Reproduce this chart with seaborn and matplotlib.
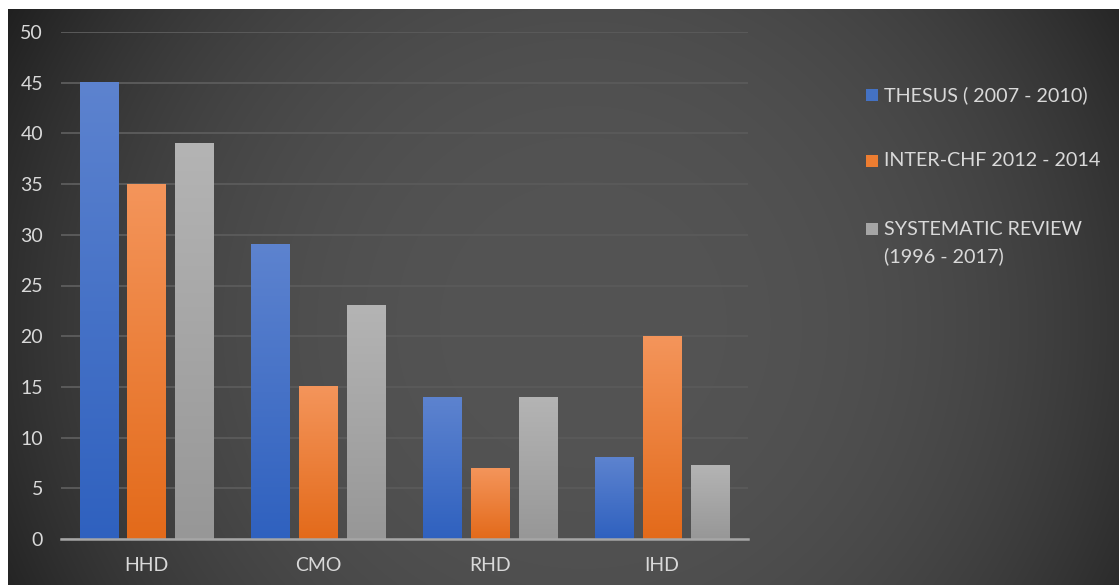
import numpy as np
import pandas as pd
import matplotlib
matplotlib.use("Agg")
import matplotlib.pyplot as plt
import seaborn as sns
from matplotlib.colors import LinearSegmentedColormap
from matplotlib.patches import Rectangle

# Aetiology of heart failure (%) by study
categories = ["HHD", "CMO", "RHD", "IHD"]
series_names = ["THESUS ( 2007 - 2010)", "INTER-CHF 2012 - 2014",
                "SYSTEMATIC REVIEW\n(1996 - 2017)"]
thesus = [45, 29, 14, 8]
inter_chf = [35, 15, 7, 20]
systematic_review = [39, 23, 14, 7.2]
y_ticks = [0, 5, 10, 15, 20, 25, 30, 35, 40, 45, 50]

# (top colour, bottom colour, legend swatch) for each series
bar_gradients = [("#5d83cf", "#2f61bf", "#4472c4"),
                 ("#f4955b", "#e36a1a", "#ed7d31"),
                 ("#b4b4b4", "#979797", "#a5a5a5")]

FONT = "Lato"

df = pd.DataFrame({
    "category": categories * 3,
    "value": thesus + inter_chf + systematic_review,
    "series": [s for s in series_names for _ in categories],
})

W, H, DPI = 1119, 585, 100
fig = plt.figure(figsize=(W / DPI, H / DPI), dpi=DPI, facecolor="white")

# Dark radial-gradient backdrop (leaves a thin white margin top/left)
bx0, by_top = 8, 9
bg_ax = fig.add_axes([bx0 / W, 0, 1 - bx0 / W, (H - by_top) / H])
bg_ax.set_axis_off()
gw, gh = W - bx0, H - by_top
yy, xx = np.mgrid[0:gh, 0:gw]
r = np.hypot(xx - 575, yy - 315) / 660.0
shade = (0x54 - 0x35 * np.clip(r, 0, 1.15) ** 2.6) / 255.0
shade = np.clip(shade, 0.09, 1)
bg_ax.imshow(np.dstack([shade, shade, shade]), aspect="auto",
             extent=[0, 1, 0, 1], interpolation="bilinear")
bg_ax.set_xlim(0, 1)
bg_ax.set_ylim(0, 1)

# Main plotting area
left, right, top, bottom = 61, 748, 32, 539
ax = fig.add_axes([left / W, (H - bottom) / H, (right - left) / W,
                   (bottom - top) / H])
ax.set_facecolor("none")

sns.barplot(data=df, x="category", y="value", hue="series",
            palette=[g[1] for g in bar_gradients], width=0.837, gap=0.19,
            legend=False, ax=ax, zorder=3)

ax.set_ylim(0, 50)
ax.set_xlim(-0.5, len(categories) - 0.5)
ax.set_yticks(y_ticks)
ax.set_xlabel("")
ax.set_ylabel("")
ax.grid(axis="y", color="#5a5a5a", linewidth=1.4, zorder=0)
ax.grid(axis="x", visible=False)
for side in ["top", "right", "left"]:
    ax.spines[side].set_visible(False)
ax.spines["bottom"].set_color("#a6a6a6")
ax.spines["bottom"].set_linewidth(1.8)
ax.spines["bottom"].set_zorder(5)
ax.tick_params(axis="both", length=0, colors="#d9d9d9", labelsize=14)
ax.tick_params(axis="y", pad=13)
ax.tick_params(axis="x", pad=13)
for lbl in ax.get_xticklabels() + ax.get_yticklabels():
    lbl.set_fontfamily(FONT)

# Replace flat bar fills with vertical gradients
for container, (c_top, c_bot, _) in zip(ax.containers, bar_gradients):
    cmap = LinearSegmentedColormap.from_list("g", [c_bot, c_top])
    grad = np.linspace(0, 1, 256).reshape(-1, 1)
    for bar in container:
        x0, y0 = bar.get_x(), bar.get_y()
        bw, bh = bar.get_width(), bar.get_height()
        bar.set_facecolor("none")
        bar.set_edgecolor("none")
        ax.imshow(grad, cmap=cmap, origin="lower", aspect="auto",
                  extent=[x0, x0 + bw, y0, y0 + bh], zorder=3,
                  interpolation="bilinear")
ax.set_xlim(-0.5, len(categories) - 0.5)
ax.set_ylim(0, 50)

# Legend on the right
legend_rows = [(95, [series_names[0]]),
               (161, [series_names[1]]),
               (229, series_names[2].split("\n"))]
for (y_px, lines), (_, _, swatch) in zip(legend_rows, bar_gradients):
    sq = 12
    fig.patches.append(Rectangle((866 / W, (H - y_px - sq / 2) / H),
                                 sq / W, sq / H, transform=fig.transFigure,
                                 facecolor=swatch, edgecolor="none"))
    for i, line in enumerate(lines):
        fig.text(884 / W, (H - y_px - i * 27) / H, line, color="#d9d9d9",
                 fontsize=14.2, va="center", ha="left", family=FONT)

fig.savefig("out.png", dpi=DPI, facecolor="white")
